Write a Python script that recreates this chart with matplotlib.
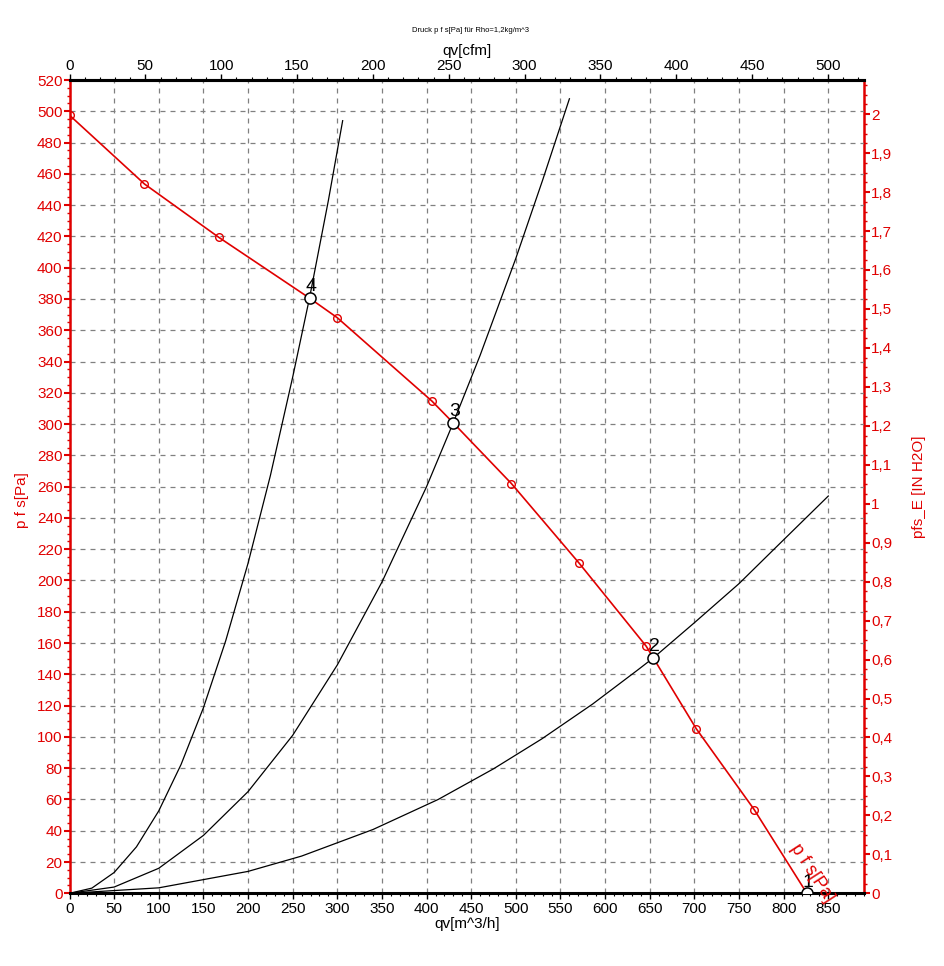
import numpy as np
import matplotlib.pyplot as plt
from matplotlib.ticker import MultipleLocator, FixedLocator, FuncFormatter

plt.rcParams['font.family'] = ['Liberation Sans Narrow', 'Liberation Sans', 'DejaVu Sans']

# fan curve p f s [Pa] over qv [m^3/h]
fan_qv = [0, 84, 167, 269, 300, 406, 430, 495, 571, 646, 654, 702, 767, 826]
fan_p = [497.5, 453.5, 419.5, 380.5, 368, 314.7, 300.7, 262, 211, 158, 150.5, 105.3, 53.5, 0]
marker_qv = [0, 84, 167, 300, 406, 495, 571, 646, 702, 767]
marker_p = [497.5, 453.5, 419.5, 368, 314.7, 262, 211, 158, 105.3, 53.5]

# system curves
sys4_qv = [0, 25, 50, 75, 100, 125, 150, 175, 200, 225, 250, 269, 290, 306]
sys4_p = [0, 3.3, 13.3, 29.7, 52.7, 82.4, 118.6, 161.5, 211, 267, 330, 381, 443, 494]
sys3_qv = [0, 50, 100, 150, 200, 250, 300, 350, 400, 430, 460, 500, 530, 560]
sys3_p = [0, 4, 16, 37, 65, 101, 146, 199, 260, 301, 344, 406, 456, 508]
sys2_qv = [0, 100, 200, 260, 340, 413, 475, 529, 586, 637, 654, 700, 750, 791, 850]
sys2_p = [0, 3.5, 14, 23.8, 40.8, 60, 79.6, 98.7, 121, 143, 150.5, 173, 198, 221, 254]

# operating points
op_labels = ['1', '2', '3', '4']
op_qv = [826, 654, 430, 269]
op_p = [0, 150.5, 300.7, 380.5]

# tick values
cfm_ticks = list(range(0, 501, 50))
cfm_minor = list(range(0, 521, 10))
inh2o_ticks = [i / 10 for i in range(0, 21)]

PA_PER_INH2O = 249.09
M3H_PER_CFM = 1.699
red = '#e00000'

fig = plt.figure(figsize=(9.44, 9.66), dpi=100)
ax = fig.add_axes([69.5 / 944, 72.7 / 966, 794.5 / 944, 813.3 / 966])
ax.set_xlim(0, 890)
ax.set_ylim(0, 520)

ax.xaxis.set_major_locator(MultipleLocator(50))
ax.xaxis.set_minor_locator(MultipleLocator(10))
ax.yaxis.set_major_locator(MultipleLocator(20))
ax.yaxis.set_minor_locator(MultipleLocator(5))
ax.grid(True, which='major', color='#808080', linestyle=(0, (4, 4)), linewidth=0.9)

# curves
ax.plot(sys4_qv, sys4_p, color='black', lw=0.9)
ax.plot(sys3_qv, sys3_p, color='black', lw=0.9)
ax.plot(sys2_qv, sys2_p, color='black', lw=0.9)
ax.plot(fan_qv, fan_p, color=red, lw=1.2)
ax.plot(marker_qv, marker_p, ls='none', marker='o', ms=5.5, mfc='none', mec=red, mew=1.0)
ax.plot(op_qv, op_p, ls='none', marker='o', ms=8, mfc='white', mec='black', mew=1.1, zorder=5)
for lab, q, p in zip(op_labels, op_qv, op_p):
    ax.annotate(lab, (q, p), xytext=(1, 2), textcoords='offset points',
                ha='center', va='bottom', fontsize=14, color='black', zorder=6,
                family=['Liberation Sans', 'DejaVu Sans'])
ax.text(832, 13, 'p f s[Pa]', color=red, fontsize=13, rotation=-57,
        ha='center', va='center', clip_on=False, zorder=7,
        family=['Liberation Sans', 'DejaVu Sans'])

# spines
ax.spines['top'].set_linewidth(2.2)
ax.spines['bottom'].set_linewidth(2.2)
ax.spines['left'].set_color(red)
ax.spines['left'].set_linewidth(1.8)
ax.spines['right'].set_visible(False)

ax.tick_params(axis='x', which='major', length=4, width=1, colors='black', labelsize=11, pad=2)
ax.tick_params(axis='x', which='minor', length=2.5, width=0.8, colors='black')
ax.tick_params(axis='y', which='major', length=4, width=1.5, colors=red, labelsize=11, pad=1)
ax.tick_params(axis='y', which='minor', length=2.5, width=1, colors=red)
ax.set_xlabel('qv[m^3/h]', fontsize=11, labelpad=1)
ax.set_ylabel('p f s[Pa]', fontsize=11, color=red)
ax.yaxis.set_label_coords(-0.051, 0.483)

# top axis in cfm
top = ax.secondary_xaxis('top', functions=(lambda x: x / M3H_PER_CFM, lambda x: x * M3H_PER_CFM))
top.xaxis.set_major_locator(FixedLocator(cfm_ticks))
top.xaxis.set_minor_locator(FixedLocator(cfm_minor))
top.tick_params(which='major', length=4, width=1, labelsize=11, pad=1)
top.tick_params(which='minor', length=2.5, width=0.8)
top.spines['top'].set_linewidth(2.2)
top.set_xlabel('qv[cfm]', fontsize=11, labelpad=3)

# right axis in inch H2O
right = ax.secondary_yaxis('right', functions=(lambda p: p / PA_PER_INH2O, lambda v: v * PA_PER_INH2O))
right.yaxis.set_major_locator(FixedLocator(inh2o_ticks))
right.yaxis.set_minor_locator(MultipleLocator(0.025))
right.yaxis.set_major_formatter(FuncFormatter(lambda v, pos: ('%g' % round(v, 2)).replace('.', ',')))
right.spines['right'].set_color(red)
right.spines['right'].set_linewidth(1.8)
right.tick_params(which='major', length=4, width=1.5, colors=red, labelsize=11, pad=1)
right.tick_params(which='minor', length=2.5, width=1, colors=red)
right.set_ylabel('pfs_E [IN H2O]', fontsize=11, color=red, labelpad=14)

fig.text(470 / 944, 1 - 30 / 966, 'Druck p f s[Pa] für Rho=1,2kg/m^3', fontsize=5.5,
         ha='center', va='center')

fig.savefig('out.png', dpi=100)
